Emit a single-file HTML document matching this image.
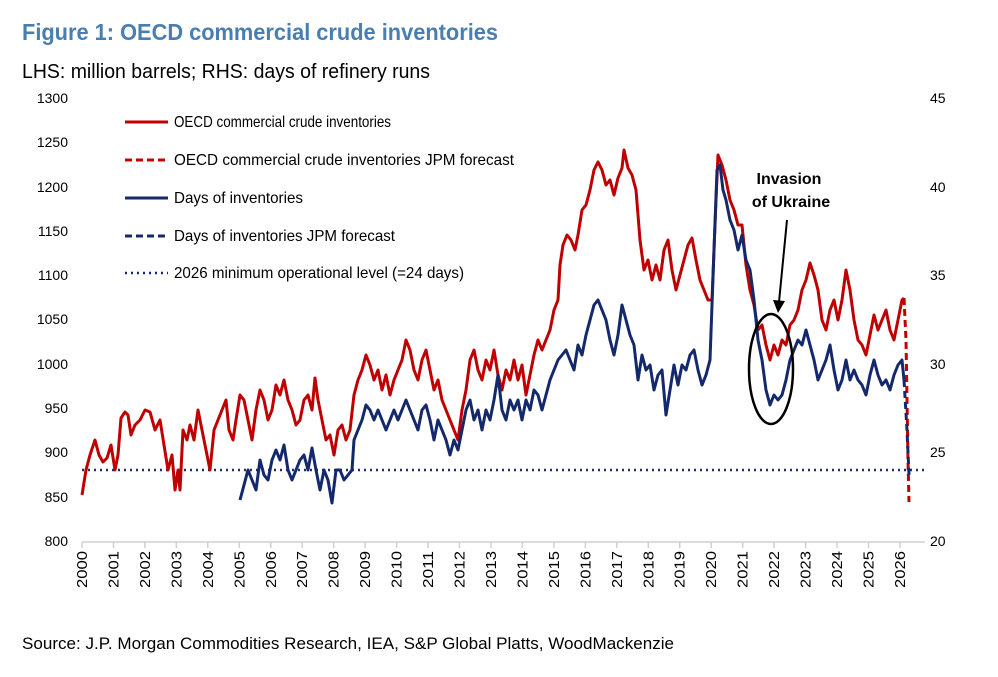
<!DOCTYPE html>
<html><head><meta charset="utf-8"><style>
body{margin:0;background:#fff;}
svg{display:block;font-family:"Liberation Sans",Arial,sans-serif;}
</style></head><body>
<svg width="998" height="677" viewBox="0 0 998 677" xmlns="http://www.w3.org/2000/svg">
<text x="22" y="40" font-size="23" font-weight="bold" fill="#4a7eb0" textLength="476" lengthAdjust="spacingAndGlyphs">Figure 1: OECD commercial crude inventories</text>
<text x="22" y="78" font-size="20" fill="#000" textLength="408" lengthAdjust="spacingAndGlyphs">LHS: million barrels; RHS: days of refinery runs</text>
<g font-size="14" fill="#000" text-anchor="end">
<text x="68" y="103">1300</text><text x="68" y="147">1250</text><text x="68" y="192">1200</text><text x="68" y="236">1150</text><text x="68" y="280">1100</text><text x="68" y="324">1050</text><text x="68" y="369">1000</text><text x="68" y="413">950</text><text x="68" y="457">900</text><text x="68" y="502">850</text><text x="68" y="546">800</text>
</g>
<g font-size="14" fill="#000">
<text x="930" y="103">45</text><text x="930" y="192">40</text><text x="930" y="280">35</text><text x="930" y="369">30</text><text x="930" y="457">25</text><text x="930" y="546">20</text>
</g>
<line x1="82" y1="542" x2="925" y2="542" stroke="#d0d0d0" stroke-width="1.5"/>
<g stroke="#d0d0d0" stroke-width="1.5">
<line x1="82" y1="542" x2="82" y2="548"/><line x1="113.5" y1="542" x2="113.5" y2="548"/><line x1="144.9" y1="542" x2="144.9" y2="548"/><line x1="176.4" y1="542" x2="176.4" y2="548"/><line x1="207.8" y1="542" x2="207.8" y2="548"/><line x1="239.3" y1="542" x2="239.3" y2="548"/><line x1="270.8" y1="542" x2="270.8" y2="548"/><line x1="302.2" y1="542" x2="302.2" y2="548"/><line x1="333.7" y1="542" x2="333.7" y2="548"/><line x1="365.1" y1="542" x2="365.1" y2="548"/><line x1="396.6" y1="542" x2="396.6" y2="548"/><line x1="428.1" y1="542" x2="428.1" y2="548"/><line x1="459.5" y1="542" x2="459.5" y2="548"/><line x1="491" y1="542" x2="491" y2="548"/><line x1="522.4" y1="542" x2="522.4" y2="548"/><line x1="553.9" y1="542" x2="553.9" y2="548"/><line x1="585.4" y1="542" x2="585.4" y2="548"/><line x1="616.8" y1="542" x2="616.8" y2="548"/><line x1="648.3" y1="542" x2="648.3" y2="548"/><line x1="679.7" y1="542" x2="679.7" y2="548"/><line x1="711.2" y1="542" x2="711.2" y2="548"/><line x1="742.7" y1="542" x2="742.7" y2="548"/><line x1="774.1" y1="542" x2="774.1" y2="548"/><line x1="805.6" y1="542" x2="805.6" y2="548"/><line x1="837" y1="542" x2="837" y2="548"/><line x1="868.5" y1="542" x2="868.5" y2="548"/><line x1="900" y1="542" x2="900" y2="548"/>
</g>
<g font-size="15" fill="#000">
<text transform="translate(87,588) rotate(-90)" textLength="37" lengthAdjust="spacingAndGlyphs">2000</text>
<text transform="translate(118.5,588) rotate(-90)" textLength="37" lengthAdjust="spacingAndGlyphs">2001</text>
<text transform="translate(149.9,588) rotate(-90)" textLength="37" lengthAdjust="spacingAndGlyphs">2002</text>
<text transform="translate(181.4,588) rotate(-90)" textLength="37" lengthAdjust="spacingAndGlyphs">2003</text>
<text transform="translate(212.8,588) rotate(-90)" textLength="37" lengthAdjust="spacingAndGlyphs">2004</text>
<text transform="translate(244.3,588) rotate(-90)" textLength="37" lengthAdjust="spacingAndGlyphs">2005</text>
<text transform="translate(275.8,588) rotate(-90)" textLength="37" lengthAdjust="spacingAndGlyphs">2006</text>
<text transform="translate(307.2,588) rotate(-90)" textLength="37" lengthAdjust="spacingAndGlyphs">2007</text>
<text transform="translate(338.7,588) rotate(-90)" textLength="37" lengthAdjust="spacingAndGlyphs">2008</text>
<text transform="translate(370.1,588) rotate(-90)" textLength="37" lengthAdjust="spacingAndGlyphs">2009</text>
<text transform="translate(401.6,588) rotate(-90)" textLength="37" lengthAdjust="spacingAndGlyphs">2010</text>
<text transform="translate(433.1,588) rotate(-90)" textLength="37" lengthAdjust="spacingAndGlyphs">2011</text>
<text transform="translate(464.5,588) rotate(-90)" textLength="37" lengthAdjust="spacingAndGlyphs">2012</text>
<text transform="translate(496,588) rotate(-90)" textLength="37" lengthAdjust="spacingAndGlyphs">2013</text>
<text transform="translate(527.4,588) rotate(-90)" textLength="37" lengthAdjust="spacingAndGlyphs">2014</text>
<text transform="translate(558.9,588) rotate(-90)" textLength="37" lengthAdjust="spacingAndGlyphs">2015</text>
<text transform="translate(590.4,588) rotate(-90)" textLength="37" lengthAdjust="spacingAndGlyphs">2016</text>
<text transform="translate(621.8,588) rotate(-90)" textLength="37" lengthAdjust="spacingAndGlyphs">2017</text>
<text transform="translate(653.3,588) rotate(-90)" textLength="37" lengthAdjust="spacingAndGlyphs">2018</text>
<text transform="translate(684.7,588) rotate(-90)" textLength="37" lengthAdjust="spacingAndGlyphs">2019</text>
<text transform="translate(716.2,588) rotate(-90)" textLength="37" lengthAdjust="spacingAndGlyphs">2020</text>
<text transform="translate(747.7,588) rotate(-90)" textLength="37" lengthAdjust="spacingAndGlyphs">2021</text>
<text transform="translate(779.1,588) rotate(-90)" textLength="37" lengthAdjust="spacingAndGlyphs">2022</text>
<text transform="translate(810.6,588) rotate(-90)" textLength="37" lengthAdjust="spacingAndGlyphs">2023</text>
<text transform="translate(842,588) rotate(-90)" textLength="37" lengthAdjust="spacingAndGlyphs">2024</text>
<text transform="translate(873.5,588) rotate(-90)" textLength="37" lengthAdjust="spacingAndGlyphs">2025</text>
<text transform="translate(905,588) rotate(-90)" textLength="37" lengthAdjust="spacingAndGlyphs">2026</text>
</g>
<polyline fill="none" stroke="#1b2f6b" stroke-width="2.5" stroke-dasharray="2,4" points="82,470 925,470"/>
<polyline fill="none" stroke="#c00000" stroke-width="3" stroke-linejoin="round" points="82,495 86,470 90,455 95,440 99,455 103,462 107,458 111,445 115,470 118,455 121,418 125,412 128,415 131,435 135,425 140,420 145,410 150,412 155,430 160,420 164,445 168,470 172,455 175,490 178,470 180,490 183,430 187,440 190,425 194,440 198,410 202,430 206,450 210,470 214,430 218,420 222,410 226,400 229,430 233,440 236,420 240,395 244,400 248,420 252,440 256,410 260,390 264,400 268,420 272,410 276,385 280,395 284,380 288,400 292,410 296,425 300,420 304,400 308,395 312,410 315,378 318,400 322,420 326,440 330,435 334,455 338,430 342,425 346,440 350,430 354,395 358,380 362,370 366,355 370,365 374,380 378,370 382,390 386,375 390,395 394,380 398,370 402,360 406,340 410,350 414,370 418,380 422,360 426,350 430,370 434,390 438,380 442,400 446,410 450,420 454,430 458,440 462,410 466,390 470,360 474,350 478,370 482,380 486,360 490,370 494,350 498,375 502,390 506,370 510,380 514,360 518,380 522,365 526,395 530,375 534,355 538,340 542,350 546,340 550,330 554,310 558,300 560,265 563,245 567,235 571,240 575,250 578,235 582,210 586,205 590,190 594,170 598,162 602,170 606,185 610,180 614,195 618,178 622,168 624,150 628,168 632,175 636,190 640,240 644,270 648,260 652,280 656,265 660,280 664,250 668,240 672,270 676,290 680,275 684,260 688,245 692,238 696,260 700,280 704,290 708,300 712,300 716,200 718,155 722,165 726,180 730,200 734,210 738,225 742,225 746,265 750,290 754,305 758,330 762,325 766,345 770,360 774,345 778,355 782,340 786,345 790,325 794,320 798,310 802,290 806,280 810,263 814,275 818,290 822,320 826,330 830,310 834,300 838,320 842,300 846,270 850,290 854,320 858,340 862,345 866,355 870,335 874,315 878,330 882,320 886,310 890,330 894,340 898,320 902,300 904,298"/>
<polyline fill="none" stroke="#c00000" stroke-width="3" stroke-dasharray="7,4" points="904,298 906,340 907,400 908,460 909,502"/>
<polyline fill="none" stroke="#13296b" stroke-width="3" stroke-linejoin="round" points="240,500 244,485 248,470 252,480 256,490 260,460 264,475 268,480 272,460 276,450 280,460 284,445 288,470 292,480 296,470 300,460 304,455 308,470 312,448 316,470 320,490 324,470 328,480 332,503 336,470 340,470 344,480 348,475 352,470 354,440 358,430 362,420 366,405 370,410 374,420 378,410 382,420 386,430 390,420 394,410 398,420 402,410 406,400 410,410 414,420 418,430 422,410 426,405 430,420 434,440 438,420 442,430 446,440 450,455 454,440 458,450 462,430 466,410 470,400 474,420 478,410 482,430 486,410 490,420 494,400 498,375 502,410 506,420 510,400 514,410 518,400 522,420 526,400 530,410 534,390 538,395 542,410 546,395 550,380 554,370 558,360 562,355 566,350 570,360 574,370 578,345 582,355 586,335 590,320 594,305 598,300 602,310 606,320 610,340 614,355 618,335 622,305 626,320 630,335 634,345 638,380 642,355 646,370 650,365 654,390 658,375 662,370 666,415 670,390 674,365 678,385 682,365 686,370 690,355 694,350 698,370 702,385 706,375 710,360 714,250 717,170 720,165 723,190 726,200 730,220 734,230 738,250 742,235 746,260 750,270 754,300 758,340 762,360 766,390 770,405 774,395 778,400 782,395 786,380 790,360 794,350 798,340 802,345 806,330 810,345 814,360 818,380 822,370 826,360 830,345 834,370 838,390 842,380 846,360 850,380 854,370 858,380 862,385 866,395 870,375 874,360 878,375 882,385 886,380 890,390 894,375 898,365 902,360 904,380"/>
<polyline fill="none" stroke="#13296b" stroke-width="3" stroke-dasharray="7,4" points="904,380 907,430 909,475"/>
<g font-size="16" fill="#000">
<line x1="125" y1="122" x2="168" y2="122" stroke="#c00000" stroke-width="3"/><text x="174" y="127" textLength="217" lengthAdjust="spacingAndGlyphs">OECD commercial crude inventories</text>
<line x1="125" y1="160" x2="168" y2="160" stroke="#c00000" stroke-width="3" stroke-dasharray="7,4"/><text x="174" y="165" textLength="340" lengthAdjust="spacingAndGlyphs">OECD commercial crude inventories JPM forecast</text>
<line x1="125" y1="198" x2="168" y2="198" stroke="#13296b" stroke-width="3"/><text x="174" y="203" textLength="129" lengthAdjust="spacingAndGlyphs">Days of inventories</text>
<line x1="125" y1="236" x2="168" y2="236" stroke="#13296b" stroke-width="3" stroke-dasharray="7,4"/><text x="174" y="241" textLength="221" lengthAdjust="spacingAndGlyphs">Days of inventories JPM forecast</text>
<line x1="125" y1="273" x2="168" y2="273" stroke="#13296b" stroke-width="2.5" stroke-dasharray="2,4"/><text x="174" y="278" textLength="290" lengthAdjust="spacingAndGlyphs">2026 minimum operational level (=24 days)</text>
</g>
<ellipse cx="771" cy="369" rx="22" ry="55" fill="none" stroke="#000" stroke-width="2.5"/>
<line x1="787" y1="220" x2="779" y2="302" stroke="#000" stroke-width="2"/>
<polygon points="773,300 785,301 778,313" fill="#000"/>
<g font-size="16" font-weight="bold" fill="#000" text-anchor="middle">
<text x="789" y="184">Invasion</text><text x="791" y="207">of Ukraine</text>
</g>
<text x="22" y="649" font-size="17" fill="#000" textLength="652" lengthAdjust="spacingAndGlyphs">Source: J.P. Morgan Commodities Research, IEA, S&amp;P Global Platts, WoodMackenzie</text>
</svg>
</body></html>
